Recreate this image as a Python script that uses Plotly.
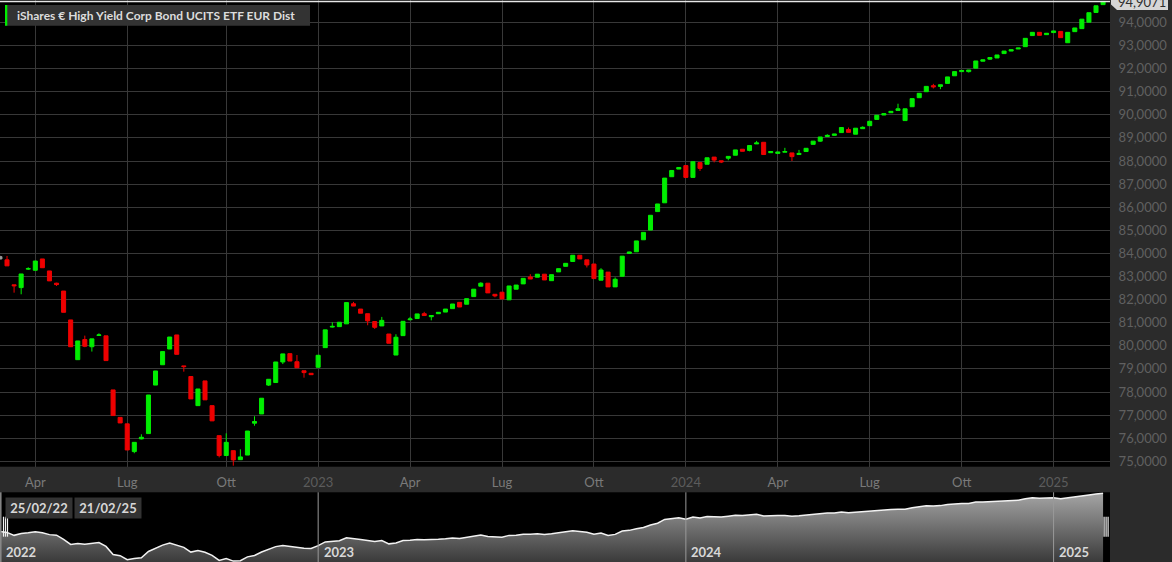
import pandas as pd
import plotly.graph_objects as go

# ---------------- data ----------------
start_date = "2022-02-25"
n_weeks = 157
dates = pd.date_range(start_date, periods=n_weeks, freq="7D")

open_ = [83.86, 83.72, 82.64, 82.52, 83.32, 83.27, 83.76, 83.24, 82.71, 82.37,
         81.12, 79.40, 80.27, 79.96, 80.45, 80.43, 78.09, 76.90, 76.62, 75.42,
         75.97, 76.20, 78.30, 79.18, 79.86, 80.47, 79.13, 78.67, 77.41, 78.48,
         77.41, 76.11, 75.25, 75.46, 75.07, 75.27, 76.65, 77.05, 78.30, 78.41,
         79.30, 79.66, 79.31, 78.92, 78.81, 79.07, 79.92, 80.81, 80.83, 80.95,
         81.82, 81.59, 81.39, 81.05, 80.86, 80.51, 79.60, 80.44, 81.13, 81.18,
         81.39, 81.26, 81.39, 81.46, 81.61, 81.88, 81.80, 82.13, 82.58, 82.71,
         82.23, 82.32, 81.99, 82.45, 82.68, 82.98, 82.97, 83.10, 82.82, 83.20,
         83.44, 83.65, 83.92, 83.72, 83.54, 82.84, 83.19, 82.55, 83.01, 84.00,
         84.07, 84.59, 85.01, 85.81, 86.19, 87.32, 87.65, 87.80, 87.29, 87.93,
         87.86, 88.17, 88.01, 88.12, 88.25, 88.51, 88.46, 88.74, 88.81, 88.36,
         88.33, 88.38, 88.35, 88.28, 88.41, 88.72, 88.86, 89.06, 89.11, 89.23,
         89.36, 89.16, 89.40, 89.53, 89.80, 89.99, 90.09, 90.19, 89.75, 90.35,
         90.74, 91.00, 91.26, 91.23, 91.36, 91.69, 91.87, 91.87, 92.02, 92.32,
         92.41, 92.46, 92.65, 92.76, 92.85, 92.95, 93.43, 93.57, 93.47, 93.56,
         93.61, 93.12, 93.60, 93.73, 94.01, 94.43, 94.77]
high = [83.90, 83.89, 82.64, 83.11, 83.40, 83.67, 83.76, 83.24, 82.73, 82.37,
        81.12, 80.21, 80.44, 80.30, 80.54, 80.43, 78.09, 76.90, 76.62, 75.82,
        76.17, 77.87, 78.91, 79.75, 80.38, 80.47, 79.13, 78.67, 78.13, 78.48,
        77.41, 76.11, 76.21, 75.46, 75.52, 76.31, 76.95, 77.73, 78.55, 79.30,
        79.65, 79.66, 79.60, 78.92, 78.81, 79.59, 80.69, 81.02, 81.02, 81.87,
        81.90, 81.59, 81.39, 81.05, 81.25, 80.51, 80.50, 81.06, 81.25, 81.38,
        81.47, 81.31, 81.45, 81.59, 81.81, 81.88, 82.04, 82.45, 82.75, 82.71,
        82.23, 82.32, 82.59, 82.63, 82.92, 83.10, 83.10, 83.10, 83.08, 83.34,
        83.57, 83.92, 83.92, 83.72, 83.54, 83.36, 83.19, 82.96, 83.88, 84.07,
        84.54, 84.91, 85.65, 86.14, 87.26, 87.59, 87.72, 87.80, 87.97, 87.93,
        88.14, 88.17, 88.01, 88.20, 88.48, 88.51, 88.67, 88.87, 88.81, 88.41,
        88.39, 88.57, 88.35, 88.48, 88.55, 88.86, 89.04, 89.16, 89.17, 89.45,
        89.45, 89.42, 89.50, 89.72, 89.98, 90.05, 90.15, 90.48, 90.26, 90.70,
        90.93, 91.23, 91.34, 91.30, 91.64, 91.87, 91.92, 91.94, 92.33, 92.38,
        92.50, 92.59, 92.76, 92.82, 92.89, 93.31, 93.57, 93.57, 93.53, 93.63,
        93.61, 93.57, 93.76, 94.14, 94.42, 94.72, 94.91]
low = [83.74, 83.46, 82.30, 82.23, 83.28, 83.27, 83.38, 82.81, 82.59, 81.45,
       79.96, 79.40, 79.94, 79.75, 80.45, 79.36, 76.98, 76.66, 75.49, 75.35,
       75.95, 76.20, 78.30, 79.18, 79.86, 79.63, 78.88, 77.70, 77.41, 77.66,
       76.75, 75.17, 75.25, 74.81, 75.07, 75.27, 76.54, 77.05, 78.26, 78.41,
       79.21, 79.34, 79.05, 78.62, 78.75, 79.07, 79.92, 80.79, 80.83, 80.95,
       81.72, 81.41, 80.89, 80.73, 80.86, 80.11, 79.60, 80.44, 81.10, 81.18,
       81.31, 81.10, 81.39, 81.46, 81.61, 81.68, 81.80, 82.13, 82.58, 82.29,
       82.10, 82.03, 81.99, 82.45, 82.68, 82.89, 82.97, 82.85, 82.82, 83.20,
       83.44, 83.65, 83.76, 83.39, 82.91, 82.84, 82.55, 82.55, 83.01, 83.98,
       84.07, 84.59, 85.01, 85.81, 86.19, 87.32, 87.65, 87.29, 87.29, 87.57,
       87.86, 87.94, 87.91, 88.03, 88.25, 88.42, 88.42, 88.74, 88.28, 88.36,
       88.33, 88.38, 88.00, 88.28, 88.41, 88.72, 88.83, 89.06, 89.11, 89.23,
       89.24, 89.16, 89.40, 89.53, 89.80, 89.99, 90.09, 90.19, 89.75, 90.35,
       90.74, 91.00, 91.14, 91.11, 91.36, 91.69, 91.87, 91.83, 92.02, 92.32,
       92.38, 92.46, 92.65, 92.76, 92.85, 92.95, 93.43, 93.44, 93.47, 93.56,
       93.34, 93.12, 93.60, 93.73, 94.01, 94.43, 94.77]
close = [83.76, 83.46, 82.60, 83.11, 83.34, 83.67, 83.38, 82.81, 82.65, 81.45,
         79.96, 80.21, 79.98, 80.30, 80.47, 79.36, 76.98, 76.66, 75.49, 75.82,
         76.04, 77.87, 78.91, 79.75, 80.38, 79.63, 79.10, 77.70, 78.13, 77.66,
         76.75, 75.25, 75.82, 75.06, 75.19, 76.31, 76.72, 77.73, 78.55, 79.30,
         79.65, 79.34, 79.05, 78.84, 78.75, 79.59, 80.69, 80.84, 81.02, 81.87,
         81.72, 81.41, 81.08, 80.80, 81.10, 80.11, 80.37, 81.06, 81.16, 81.38,
         81.31, 81.31, 81.45, 81.59, 81.81, 81.68, 82.04, 82.45, 82.71, 82.29,
         82.16, 82.03, 82.59, 82.63, 82.92, 82.89, 83.10, 82.85, 83.08, 83.34,
         83.57, 83.92, 83.76, 83.50, 82.91, 83.28, 82.55, 82.88, 83.88, 84.06,
         84.54, 84.91, 85.65, 86.14, 87.26, 87.59, 87.72, 87.29, 87.97, 87.68,
         88.14, 88.04, 87.96, 88.20, 88.48, 88.42, 88.67, 88.78, 88.28, 88.41,
         88.39, 88.41, 88.19, 88.33, 88.55, 88.86, 89.04, 89.11, 89.17, 89.45,
         89.24, 89.42, 89.46, 89.72, 89.98, 90.05, 90.15, 90.26, 90.26, 90.70,
         90.93, 91.23, 91.21, 91.30, 91.64, 91.87, 91.92, 91.94, 92.33, 92.38,
         92.48, 92.59, 92.76, 92.82, 92.89, 93.31, 93.57, 93.44, 93.53, 93.63,
         93.34, 93.57, 93.76, 94.14, 94.42, 94.72, 94.9071]

x_tick_dates = ["2022-04-01", "2022-07-01", "2022-10-07", "2023-01-06",
                "2023-04-07", "2023-07-07", "2023-10-06", "2024-01-05",
                "2024-04-05", "2024-07-05", "2024-10-04", "2025-01-03"]
x_tick_labels = ["Apr", "Lug", "Ott", "2023", "Apr", "Lug", "Ott", "2024",
                 "Apr", "Lug", "Ott", "2025"]
nav_year_dates = ["2023-01-06", "2024-01-05", "2025-01-03"]
nav_year_labels = ["2022", "2023", "2024", "2025"]
y_tick_values = list(range(75, 95))
title_text = "iShares € High Yield Corp Bond UCITS ETF EUR Dist"

# ---------------- style ----------------
W, H = 1172, 562
PLOT_W = 1110
GREEN = "#00ee00"
RED = "#ee0000"
GREY_CANDLE = "#9a9a9a"
PANEL = "#2b2b2b"
GRID = "#383838"
FONT = "Lato"


def px(x):
    return x / PLOT_W


def py(y):
    return 1 - y / H


fig = go.Figure()

# first (neutral) candle
fig.add_trace(go.Candlestick(
    x=dates[:1], open=open_[:1], high=high[:1], low=low[:1], close=close[:1],
    increasing=dict(line=dict(color=GREY_CANDLE, width=1), fillcolor=GREY_CANDLE),
    decreasing=dict(line=dict(color=GREY_CANDLE, width=1), fillcolor=GREY_CANDLE),
    showlegend=False, hoverinfo="skip", xaxis="x", yaxis="y"))

fig.add_trace(go.Candlestick(
    x=dates[1:], open=open_[1:], high=high[1:], low=low[1:], close=close[1:],
    increasing=dict(line=dict(color=GREEN, width=1), fillcolor=GREEN),
    decreasing=dict(line=dict(color=RED, width=1), fillcolor=RED),
    whiskerwidth=0, showlegend=False, xaxis="x", yaxis="y"))

nav_min, nav_max = 74.8, 95.2
fig.add_trace(go.Scatter(
    x=dates, y=close, mode="lines", line=dict(color="#f2f2f2", width=1.5),
    fill="tozeroy",
    fillgradient=dict(type="vertical", start=nav_min, stop=nav_max,
                      colorscale=[[0, "#3a3a3a"], [1, "#a6a6a6"]]),
    showlegend=False, hoverinfo="skip", xaxis="x2", yaxis="y2"))

x_range = ["2022-02-25 01:18", "2025-02-27 20:30"]

tick_text = []
for lab in x_tick_labels:
    if lab.isdigit():
        tick_text.append(f"<span style='color:#5c5c5c'>{lab}</span>")
    else:
        tick_text.append(lab)

main_bottom = 466.7
nav_top = 492.3

fig.update_layout(
    width=W, height=H,
    margin=dict(l=0, r=W - PLOT_W, t=0, b=0, autoexpand=False),
    paper_bgcolor=PANEL, plot_bgcolor="#000000",
    separators=",.",
    font=dict(family=FONT, color="#777777", size=13),
    boxgap=0.43, boxgroupgap=0,
    xaxis=dict(domain=[0, 1], range=x_range, type="date",
               rangeslider=dict(visible=False),
               tickvals=x_tick_dates, ticktext=tick_text,
               tickfont=dict(family=FONT, size=13, color="#7a7a7a"),
               showgrid=True, gridcolor=GRID, gridwidth=1,
               ticks="outside", ticklen=4, tickcolor="rgba(0,0,0,0)",
               zeroline=False, showline=False, anchor="y"),
    yaxis=dict(domain=[py(main_bottom), 1], range=[74.766, 94.97], side="right",
               tickvals=y_tick_values, tickformat=".4f",
               tickfont=dict(family=FONT, size=13, color="#606060"),
               showgrid=True, gridcolor=GRID, gridwidth=1,
               ticks="outside", ticklen=5, tickcolor="rgba(0,0,0,0)",
               zeroline=False, showline=False, anchor="x"),
    xaxis2=dict(domain=[0, 1], range=x_range, type="date",
                showgrid=False, showticklabels=False, zeroline=False,
                showline=False, anchor="y2"),
    yaxis2=dict(domain=[0, py(nav_top)], range=[nav_min, nav_max],
                showgrid=False, showticklabels=False, zeroline=False,
                showline=False, anchor="x2"),
)

shapes = []
# last-price line
shapes.append(dict(type="line", xref="paper", yref="y", x0=0, x1=1,
                   y0=close[-1], y1=close[-1],
                   line=dict(color="#e6e6e6", width=1.5), layer="above"))
# legend box
shapes.append(dict(type="rect", xref="paper", yref="paper",
                   x0=px(5), x1=px(310), y0=py(25.7), y1=py(5),
                   fillcolor="#333333", line=dict(width=0), layer="above"))
shapes.append(dict(type="rect", xref="paper", yref="paper",
                   x0=px(5), x1=px(7.3), y0=py(25.7), y1=py(5),
                   fillcolor=GREEN, line=dict(width=0), layer="above"))
# last price label box with pointer
lab_path = (f"M {px(1111)} {py(-8)} L {px(1168)} {py(-8)} L {px(1168)} {py(10)} "
            f"L {px(1117)} {py(10)} L {px(1111)} {py(4.5)} Z")
shapes.append(dict(type="path", xref="paper", yref="paper", path=lab_path,
                   fillcolor="#d6d6d6", line=dict(width=0), layer="above"))
# navigator year lines
for d in nav_year_dates:
    shapes.append(dict(type="line", xref="x2", yref="y2 domain", x0=d, x1=d,
                       y0=0, y1=1, line=dict(color="#9a9a9a", width=1),
                       layer="above"))
# navigator left edge
shapes.append(dict(type="line", xref="paper", yref="paper", x0=px(0.8), x1=px(0.8),
                   y0=0, y1=py(nav_top), line=dict(color="#8a8a8a", width=1.5),
                   layer="above"))
# navigator handles
for base in (2.7, 1103.3):
    for k in range(3):
        xx = base + 0.8 + k * 2
        shapes.append(dict(type="line", xref="paper", yref="paper",
                           x0=px(xx), x1=px(xx), y0=py(536.7), y1=py(516.7),
                           line=dict(color="#f0f0f0", width=1.2), layer="above"))
fig.update_layout(shapes=shapes)

annotations = []
annotations.append(dict(text=title_text, xref="paper", yref="paper",
                        x=px(15), y=py(15.5), xanchor="left", yanchor="middle",
                        showarrow=False,
                        font=dict(family=FONT, size=12, color="#dcdcdc", weight="bold")))
annotations.append(dict(text=f"{close[-1]:.4f}".replace(".", ","),
                        xref="paper", yref="y", x=px(1116), y=close[-1],
                        xanchor="left", yanchor="middle", showarrow=False, yshift=-1,
                        font=dict(family=FONT, size=13, color="#2e2e2e")))
# navigator date boxes
for txt, cx in ((dates[0].strftime("%d/%m/%y"), 39), (dates[-1].strftime("%d/%m/%y"), 107.5)):
    annotations.append(dict(text=txt, xref="paper", yref="paper", x=px(cx), y=py(508.3),
                            xanchor="center", yanchor="middle", showarrow=False,
                            bgcolor="#333333", width=60, height=14, borderpad=3,
                            font=dict(family=FONT, size=13, color="#d8d8d8", weight="bold")))
# navigator year labels
annotations.append(dict(text=nav_year_labels[0], xref="paper", yref="paper",
                        x=px(3.5), y=py(552), xanchor="left", yanchor="middle",
                        showarrow=False,
                        font=dict(family=FONT, size=13, color="#d8d8d8", weight="bold")))
for d, lab in zip(nav_year_dates, nav_year_labels[1:]):
    annotations.append(dict(text=lab, xref="x2", yref="paper", x=d, y=py(552),
                            xanchor="left", yanchor="middle", xshift=3.5,
                            showarrow=False,
                            font=dict(family=FONT, size=13, color="#d8d8d8", weight="bold")))
fig.update_layout(annotations=annotations)

fig.write_html(
    "out.html",
    config={"displayModeBar": False},
    post_script="document.body.style.margin='0px';document.body.style.overflow='hidden';",
)
